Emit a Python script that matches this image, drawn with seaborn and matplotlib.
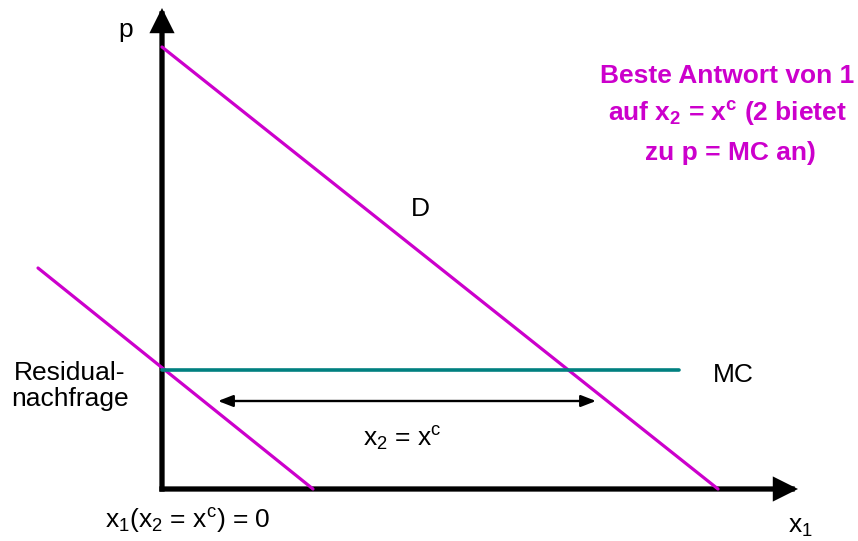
import matplotlib
matplotlib.use("Agg")
import matplotlib.pyplot as plt
import seaborn as sns
import numpy as np

sns.set_theme(style="white")
plt.rcParams['font.family'] = ['Liberation Sans', 'DejaVu Sans']
plt.rcParams['text.color'] = 'black'
plt.rcParams['mathtext.fontset'] = 'custom'
plt.rcParams['mathtext.rm'] = 'Liberation Sans'
plt.rcParams['mathtext.it'] = 'Liberation Sans:italic'
plt.rcParams['mathtext.bf'] = 'Liberation Sans:bold'

# ---- data (economic units) ----
demand_x = [0.0, 55.6]
demand_p = [44.2, 0.0]
residual_x = [-12.4, 15.1]
residual_p = [22.1, 0.0]
mc_x = [0.0, 51.7]
mc_p = [11.9, 11.9]
span_x = [5.6, 43.4]      # x2 = x^c double arrow
span_p = 8.8
axis_xmax = 63.6
axis_pmax = 48.1

MAGENTA = '#CC00CC'
TEAL = '#008080'

fig = plt.figure(figsize=(8.58, 5.41), dpi=100)
ax = fig.add_axes([0, 0, 1, 1])
ax.set_xlim(-16.2, 69.6)
ax.set_ylim(-5.2, 48.9)
ax.axis('off')

# axes with arrows
arrow_kw = dict(arrowstyle='-|>,head_length=12,head_width=6', mutation_scale=1,
                color='black', lw=3.8, shrinkA=0, shrinkB=0, joinstyle='miter',
                capstyle='projecting')
ax.annotate('', xy=(axis_xmax, 0), xytext=(0, 0), arrowprops=arrow_kw, zorder=2)
ax.annotate('', xy=(0, axis_pmax), xytext=(0, 0), arrowprops=arrow_kw, zorder=2)

# curves
sns.lineplot(x=demand_x, y=demand_p, color=MAGENTA, lw=2.3, ax=ax, sort=False, estimator=None, zorder=3)
sns.lineplot(x=residual_x, y=residual_p, color=MAGENTA, lw=2.3, ax=ax, sort=False, estimator=None, zorder=3)
sns.lineplot(x=mc_x, y=mc_p, color=TEAL, lw=2.6, ax=ax, sort=False, estimator=None, zorder=3)

# double arrow
ax.annotate('', xy=(span_x[1], span_p), xytext=(span_x[0], span_p),
            arrowprops=dict(arrowstyle='<|-|>,head_length=9,head_width=3.5', mutation_scale=1,
                            color='black', lw=1.7, shrinkA=0, shrinkB=0), zorder=3)

def P(px, py):
    return ((px - 162) / 10.0, (489 - py) / 10.0)

fs = 19
tk = dict(fontsize=fs, ha='center', va='baseline', color='black')
ax.text(*P(126, 37), 'p', **tk)
ax.text(*P(420, 216), 'D', **tk)
ax.text(*P(733, 382), 'MC', **tk)
ax.text(*P(70, 380), 'Residual-', **tk)
ax.text(*P(70, 406), 'nachfrage', **tk)
ax.text(*P(402, 447), r'x$_2$ = x$^\mathrm{c}$', **tk)
ax.text(*P(188, 528), r'x$_1$(x$_2$ = x$^\mathrm{c}$) = 0', **tk)
ax.text(*P(800, 533), r'x$_1$', **tk)

mk = dict(fontsize=fs, ha='center', va='baseline', color=MAGENTA, fontweight='bold')
ax.text(*P(727, 83), 'Beste Antwort von 1', **mk)
ax.text(*P(727, 121), r'auf x$_\mathbf{2}$ = x$^\mathbf{c}$ (2 bietet', **mk)
ax.text(*P(730, 160), 'zu p = MC an)', **mk)

fig.savefig('out.png', dpi=100)
